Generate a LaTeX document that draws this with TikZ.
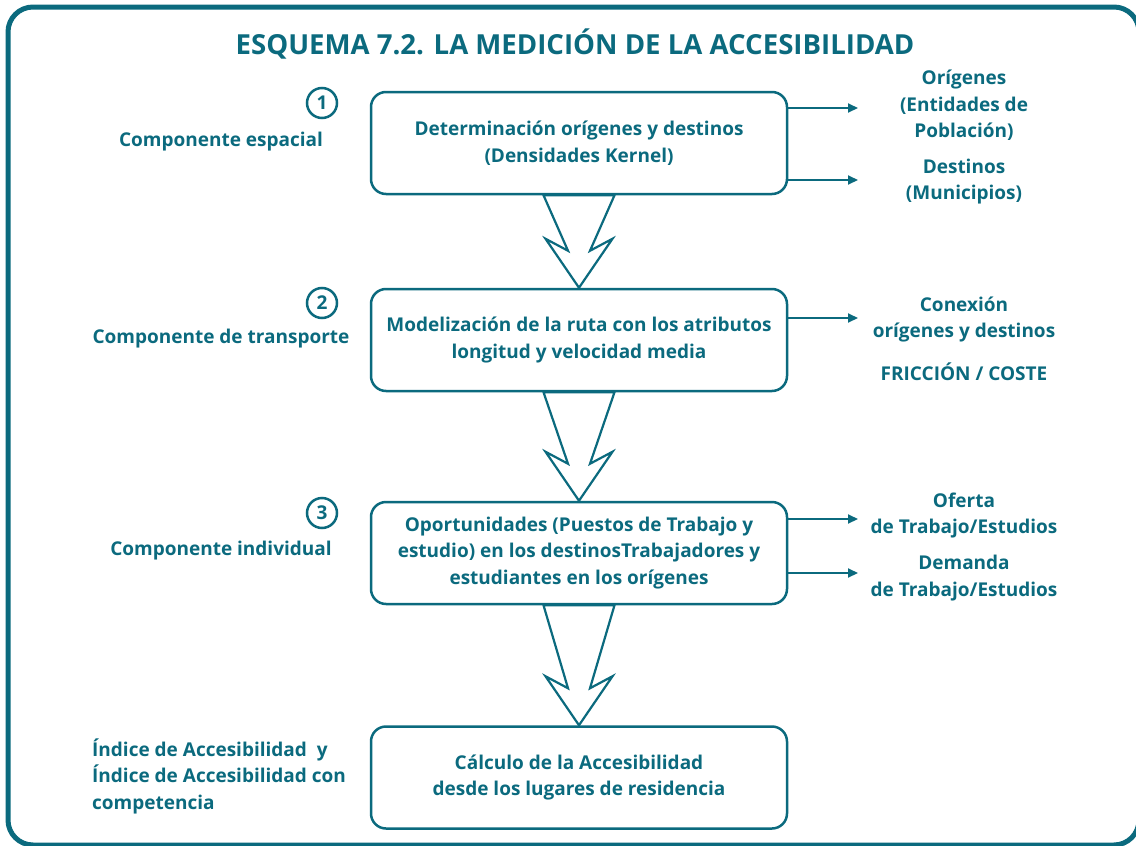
\documentclass[tikz,border=0pt]{standalone}
\usepackage{fontspec}
\setmainfont{Open Sans}
\usetikzlibrary{arrows.meta,calc}
\definecolor{teal1}{HTML}{0B6A7E}
\begin{document}
\begin{tikzpicture}[x=1pt,y=-1pt,
  body/.style={font=\bfseries\fontsize{19}{26.5}\selectfont},
  txt/.style={body,text=teal1,align=center,inner sep=0pt},
  stepbox/.style={body,draw=teal1,line width=2.5pt,rounded corners=15pt,minimum width=416pt,minimum height=102pt,inner sep=0pt,text=teal1,align=center},
  num/.style={circle,draw=teal1,line width=2.5pt,minimum size=30pt,inner sep=0pt,text=teal1,font=\bfseries\fontsize{19}{22}\selectfont},
  conn/.style={draw=teal1,line width=2pt,-{Triangle[length=10pt,width=9pt]}},
  hollow/.style={draw=teal1,line width=2.2pt,line join=miter,fill=white}
]
\useasboundingbox (0,0) rectangle (1136,846);
\begin{scope}
\clip (0,0) rectangle (1136,846);
\draw[teal1,line width=5pt,rounded corners=25pt] (8,7) rectangle (1139,845);
\end{scope}

\node[txt,font=\bfseries\fontsize{27.6}{30}\selectfont] (title) at (575,44) {ESQUEMA 7.2. LA MEDICIÓN DE LA ACCESIBILIDAD};

% boxes
\node[stepbox] (b1) at (579,143) {Determinación orígenes y destinos\\(Densidades Kernel)};
\node[stepbox] (b2) at (579,340) {Modelización de la ruta con los atributos\\longitud y velocidad media};
\node[stepbox] (b3) at (579,553) {Oportunidades (Puestos de Trabajo y\\estudio) en los destinosTrabajadores y\\estudiantes en los orígenes};
\node[stepbox] (b4) at (579,777.5) {Cálculo de la Accesibilidad\\desde los lugares de residencia};

% hollow arrows
\foreach \s/\t in {b1/b2,b2/b3,b3/b4}{
  \draw[hollow] ($(\s.south)+(-35.5,0)$) -- ($(\t.north)+(-11,-37)$) -- ($(\t.north)+(-33.5,-49)$) -- (\t.north) -- ($(\t.north)+(33.5,-49)$) -- ($(\t.north)+(11,-37)$) -- ($(\s.south)+(35.5,0)$) -- cycle;
}

% numbers
\node[num] (n1) at (322,103) {1};
\node[num] (n2) at (322,303) {2};
\node[num] (n3) at (322,513) {3};

% left labels
\node[txt] (l1) at (221,142) {Componente espacial};
\node[txt] (l2) at (221,339) {Componente de transporte};
\node[txt] (l3) at (221,551) {Componente individual};
\node[txt,align=left,anchor=west] (l4) at (92,776) {Índice de Accesibilidad\ \ y\\Índice de Accesibilidad con\\competencia};

% right labels
\node[txt] (r1) at (964,105.5) {Orígenes\\(Entidades de\\Población)};
\node[txt] (r2) at (964,181.5) {Destinos\\(Municipios)};
\node[txt] (r3) at (964,319.5) {Conexión\\orígenes y destinos};
\node[txt] (r4) at (964,372) {FRICCIÓN / COSTE};
\node[txt] (r5) at (964,515.5) {Oferta\\de Trabajo/Estudios};
\node[txt] (r6) at (964,578) {Demanda\\de Trabajo/Estudios};

% connectors
\coordinate (e1) at (858,108);
\coordinate (e2) at (858,180);
\coordinate (e3) at (858,318);
\coordinate (e4) at (858,519);
\coordinate (e5) at (858,573);
\foreach \b/\e in {b1/e1,b1/e2,b2/e3,b3/e4,b3/e5}{
  \draw[conn] (\b.east |- \e) -- (\e);
}
\end{tikzpicture}
\end{document}
